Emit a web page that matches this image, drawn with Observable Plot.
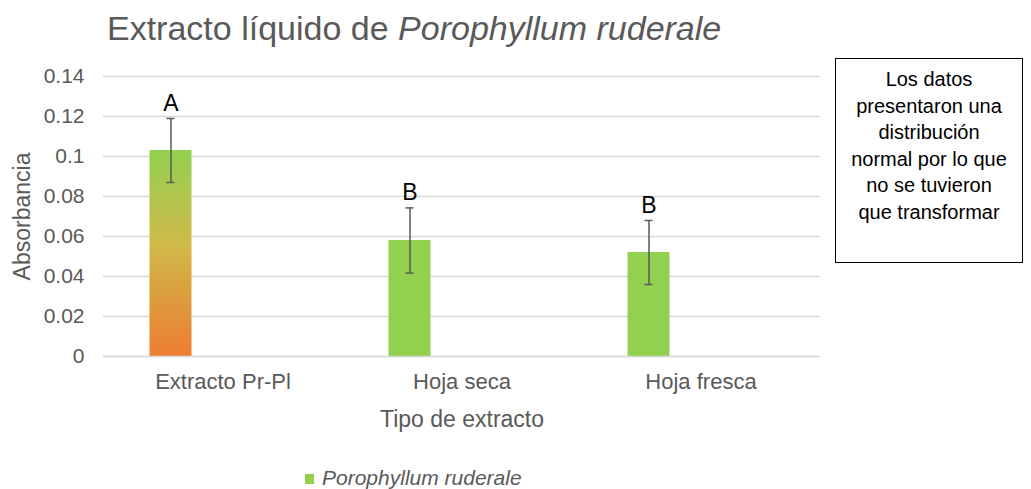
<!DOCTYPE html>
<html>
<head>
<meta charset="utf-8">
<script src="https://cdn.jsdelivr.net/npm/d3@7"></script>
<script src="https://cdn.jsdelivr.net/npm/@observablehq/plot@0.6"></script>
<style>
  html, body { margin: 0; padding: 0; background: #fff; }
  body { font-family: "Liberation Sans", Arial, sans-serif; }
  #wrap { position: relative; width: 1031px; height: 489px; overflow: hidden; }
  #chart { position: absolute; left: 0; top: 0; }
  #title { position: absolute; left: 107px; top: 8px; font-size: 34px; line-height: 40px; color: #595959; white-space: nowrap; }
  #note { position: absolute; left: 835px; top: 58px; width: 188px; height: 205px; border: 1px solid #000;
          box-sizing: border-box; text-align: center; font-size: 20px; line-height: 26.6px; color: #000; padding-top: 7px; white-space: nowrap; }
  #legend { position: absolute; left: 305px; top: 465px; font-size: 21px; line-height: 26px; color: #595959; font-style: italic; white-space: nowrap; }
  #legend span.sw { display: inline-block; width: 9px; height: 10px; background: #92D050; margin-right: 8px; vertical-align: 1px; }
</style>
</head>
<body>
<div id="wrap">
  <div id="chart"></div>
  <div id="title">Extracto líquido de <i>Porophyllum ruderale</i></div>
  <div id="note">Los datos<br>presentaron una<br>distribución<br>normal por lo que<br>no se tuvieron<br>que transformar</div>
  <div id="legend"><span class="sw"></span>Porophyllum ruderale</div>
</div>
<script>
const categories = ["Extracto Pr-Pl", "Hoja seca", "Hoja fresca"];
const means = [0.103, 0.058, 0.052];
const errors = [0.016, 0.0163, 0.016];
const letters = ["A", "B", "B"];
const yTicks = [0, 0.02, 0.04, 0.06, 0.08, 0.1, 0.12, 0.14];

const data = categories.map((c, i) => ({cat: c, mean: means[i], err: errors[i], letter: letters[i], idx: i}));

const barOffset = -52;
const band = 239;
const barW = 42;
const capW = 8;

const plot = Plot.plot({
  width: 1031,
  height: 489,
  marginLeft: 103,
  marginRight: 211,
  marginTop: 76,
  marginBottom: 133,
  style: {fontFamily: "Liberation Sans, Arial, sans-serif", color: "#595959", background: "#fff"},
  x: {domain: categories, padding: 0},
  y: {domain: [0, 0.14]},
  color: {type: "identity"},
  marks: [
    Plot.gridY(yTicks, {stroke: "#d9d9d9", strokeOpacity: 1, strokeWidth: 1.5}),
    Plot.axisY(yTicks, {tickSize: 0, tickPadding: 19, fontSize: 21, fill: "#595959",
      tickFormat: d => String(d), label: "Absorbancia", labelAnchor: "center", labelArrow: "none", labelOffset: 90}),
    Plot.axisX({tickSize: 0, tickPadding: 17, fontSize: 22, fill: "#595959",
      label: "Tipo de extracto", labelAnchor: "center", labelArrow: "none", labelOffset: 70}),
    Plot.barY(data, {x: "cat", y: "mean", dx: barOffset,
      insetLeft: (band - barW) / 2, insetRight: (band - barW) / 2,
      fill: d => d.idx === 0 ? "url(#gradBar)" : "#92D050"}),
    Plot.ruleY([0], {stroke: "#d9d9d9", strokeWidth: 1.5}),
    Plot.ruleX(data, {x: "cat", y1: d => d.mean - d.err, y2: d => d.mean + d.err, dx: barOffset, stroke: "#595959", strokeWidth: 1.5}),
    Plot.tickY(data, {x: "cat", y: d => d.mean + d.err, dx: barOffset, insetLeft: (band - capW) / 2, insetRight: (band - capW) / 2, stroke: "#595959", strokeWidth: 1.5}),
    Plot.tickY(data, {x: "cat", y: d => d.mean - d.err, dx: barOffset, insetLeft: (band - capW) / 2, insetRight: (band - capW) / 2, stroke: "#595959", strokeWidth: 1.5}),
    Plot.text(data, {x: "cat", y: d => d.mean + d.err, text: "letter", dx: barOffset, dy: -15, fontSize: 23, fill: "#000"})
  ]
});

const svg = d3.select(plot);
const defs = svg.insert("defs", ":first-child");
const g = defs.append("linearGradient").attr("id", "gradBar").attr("x1", 0).attr("y1", 0).attr("x2", 0).attr("y2", 1);
g.append("stop").attr("offset", "0%").attr("stop-color", "#92D050");
g.append("stop").attr("offset", "45%").attr("stop-color", "#CFBA4A");
g.append("stop").attr("offset", "100%").attr("stop-color", "#ED7D31");
svg.selectAll("[aria-label='y-axis label'] text, [aria-label='x-axis label'] text").style("font-size", "23px").attr("fill", "#595959");

document.getElementById("chart").appendChild(plot);
</script>
</body>
</html>
